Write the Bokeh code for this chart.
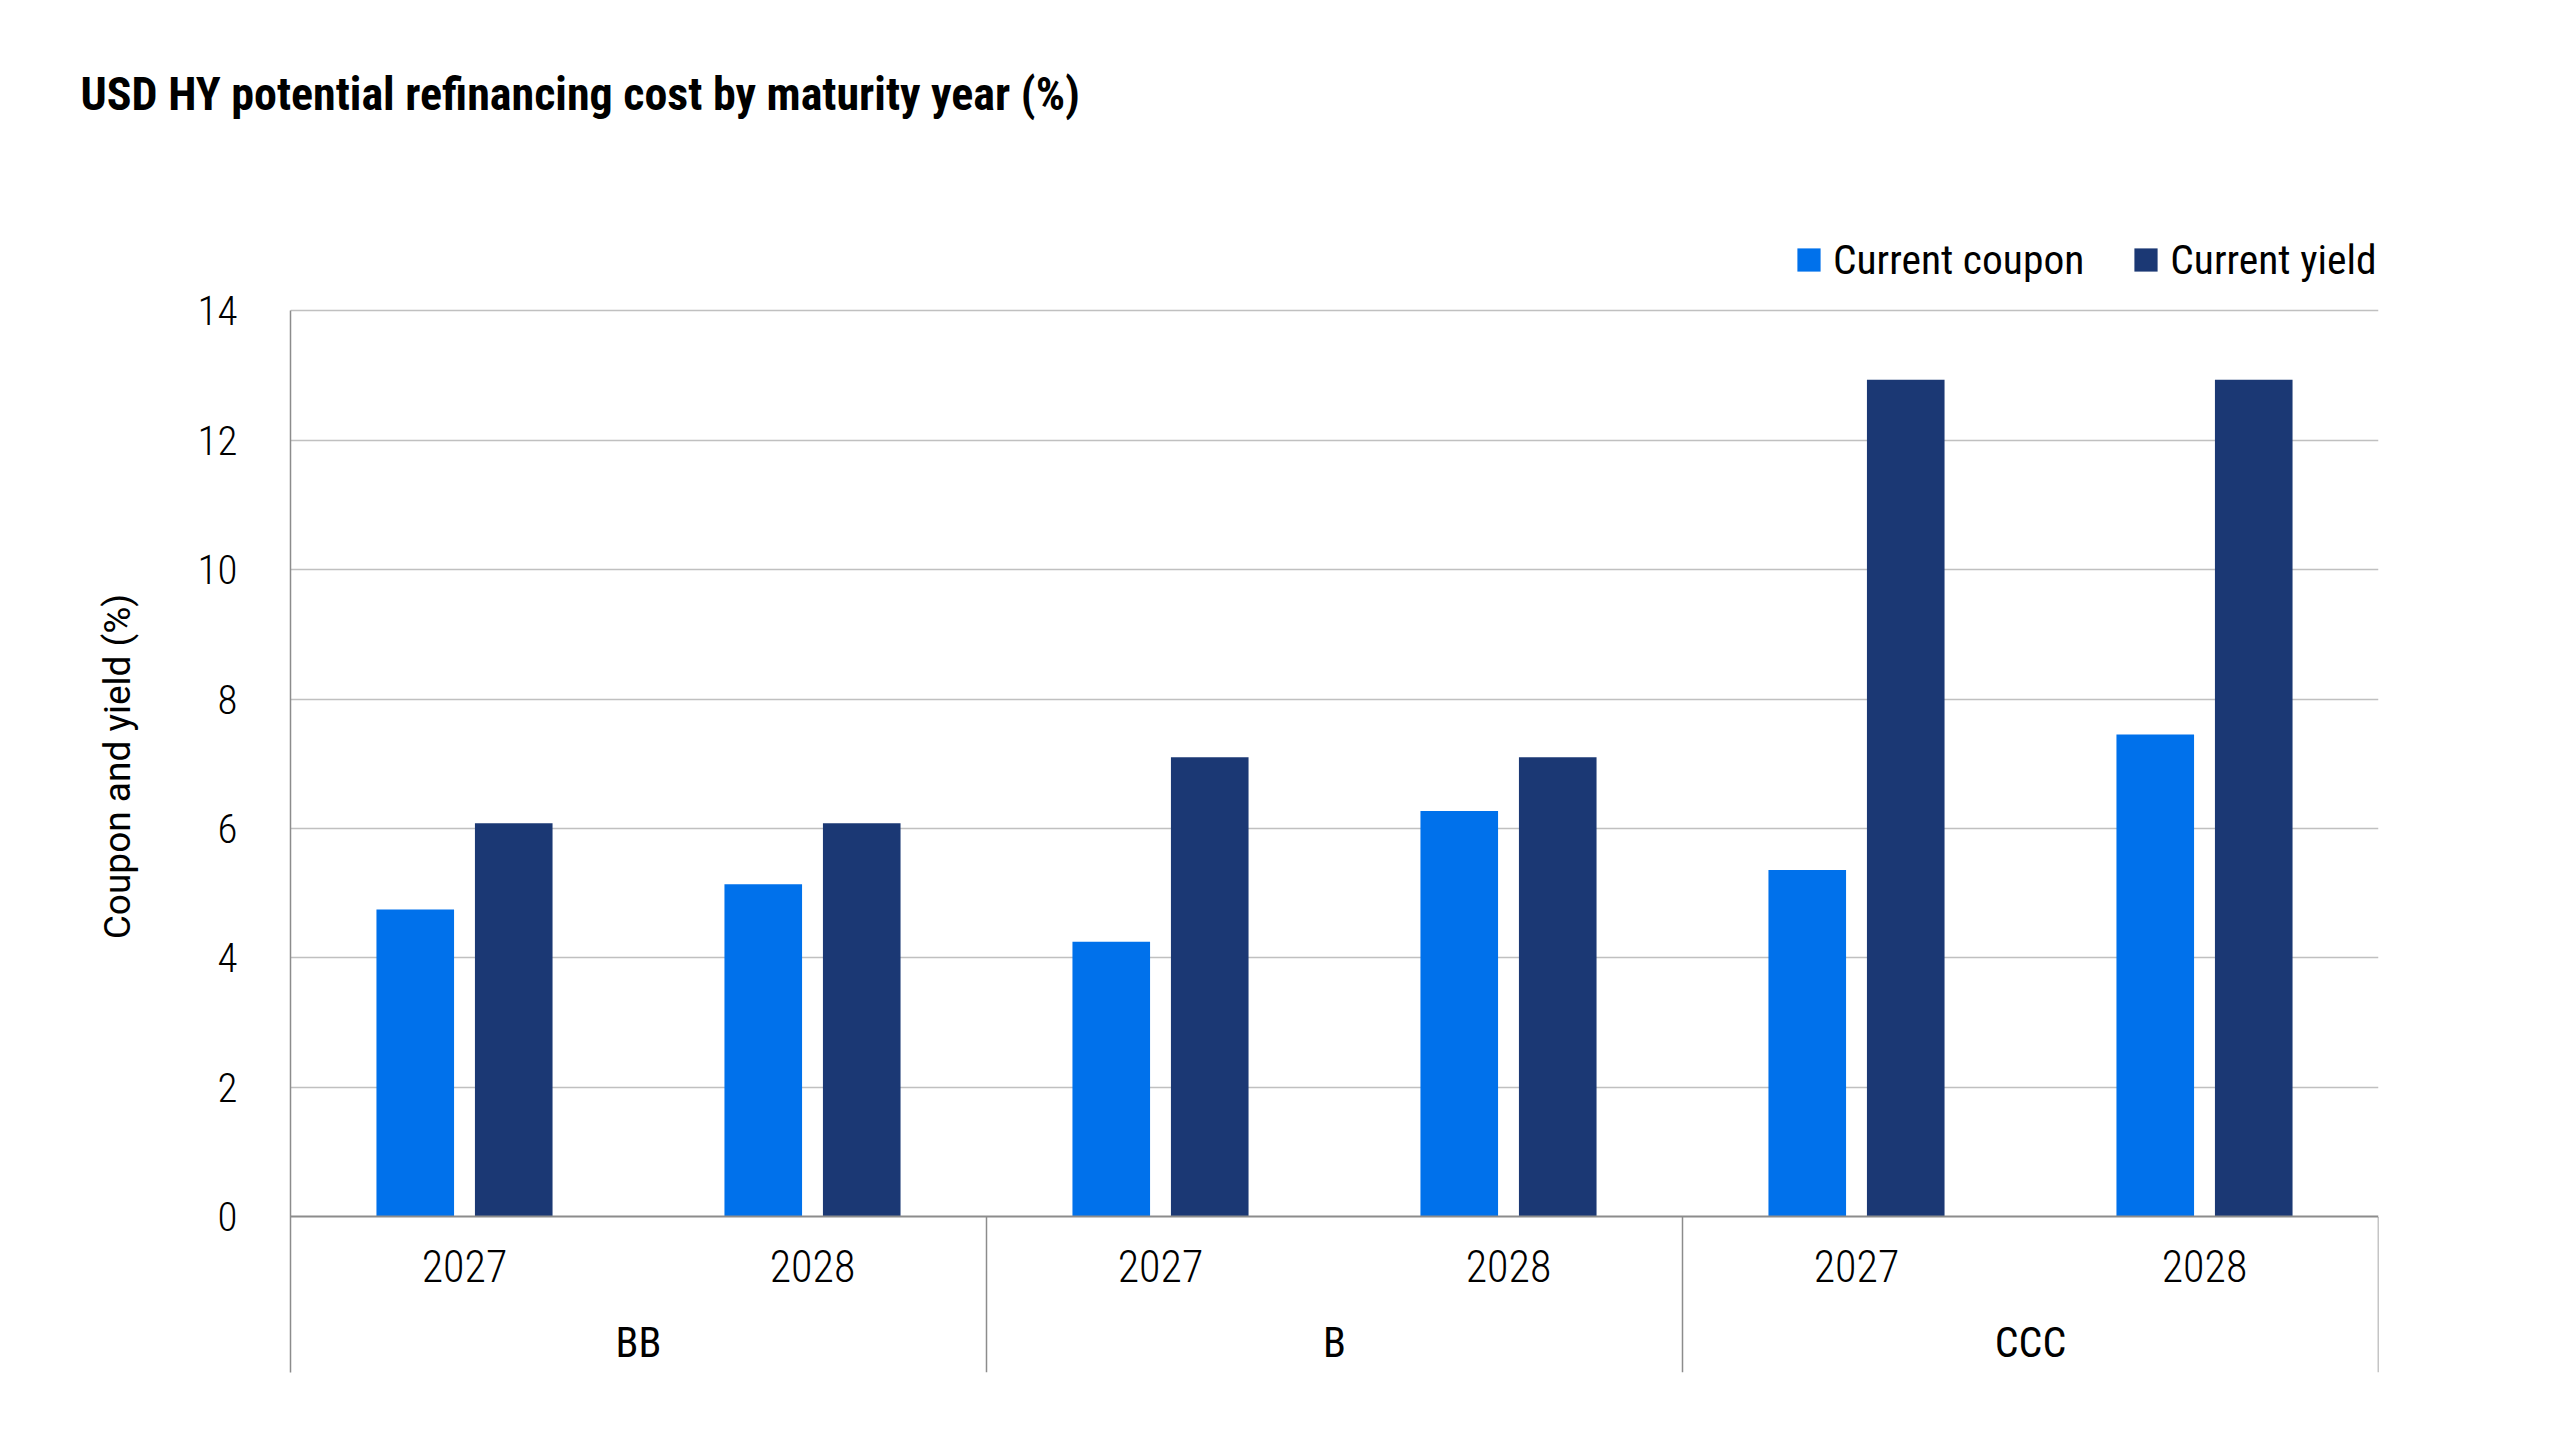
from bokeh.plotting import figure
from bokeh.models import (FactorRange, Range1d, FixedTicker, Legend, LegendItem,
                          CategoricalAxis, ColumnDataSource)
from bokeh.transform import dodge
from bokeh.embed import file_html
from bokeh.resources import INLINE

# ---- data ----
grades = ["BB", "B", "CCC"]
years = ["2027", "2028"]
coupon = [4.75, 5.14, 4.25, 6.27, 5.36, 7.45]
current_yield = [6.08, 6.08, 7.10, 7.10, 12.93, 12.93]
y_ticks = [0, 2, 4, 6, 8, 10, 12, 14]
series = ["Current coupon", "Current yield"]
colors = ["#0071EB", "#1B3874"]
title_text = "USD HY potential refinancing cost by maturity year (%)"
y_label = "Coupon and yield (%)"

factors = [(g, y) for g in grades for y in years]
src = ColumnDataSource(dict(cat=factors, coupon=coupon, yld=current_yield))

Y_MIN, Y_MAX = -2.402, 16.317
FONT = "Roboto Condensed"
FONT_L = "Roboto Condensed Light"

x_range = FactorRange(*factors, factor_padding=0, group_padding=0,
                      subgroup_padding=0, range_padding=0)
p = figure(width=2536, height=1420, x_range=x_range, y_range=Range1d(Y_MIN, Y_MAX),
           output_backend="svg", toolbar_location=None,
           min_border_left=290, min_border_right=158, min_border_top=160,
           min_border_bottom=48)
p.extra_x_ranges = {"grp": FactorRange(*grades, range_padding=0, factor_padding=0)}
p.outline_line_color = None
p.background_fill_color = "white"
p.border_fill_color = "white"

# title
p.title.text = title_text
p.title.text_font = FONT
p.title.text_font_style = "bold"
p.title.text_font_size = "46px"
p.title.text_color = "#000000"
p.title.align = "left"
p.title.offset = -210
p.title.standoff = 80

# bars
r1 = p.vbar(x=dodge("cat", -0.1415, range=p.x_range), top="coupon", width=0.223,
            source=src, fill_color=colors[0], line_color=None)
r2 = p.vbar(x=dodge("cat", 0.1415, range=p.x_range), top="yld", width=0.223,
            source=src, fill_color=colors[1], line_color=None)

# group separators below the axis
sep_src = ColumnDataSource(dict(g=grades[1:], y0=[0] * 2, y1=[Y_MIN] * 2))
p.segment(x0=dodge("g", -0.5, range=p.extra_x_ranges["grp"]),
          x1=dodge("g", -0.5, range=p.extra_x_ranges["grp"]),
          y0="y0", y1="y1", source=sep_src, x_range_name="grp",
          line_color="#8C8C8C", line_width=1.5)
end_src = ColumnDataSource(dict(g=grades[-1:], y0=[0], y1=[Y_MIN]))
p.segment(x0=dodge("g", 0.5, range=p.extra_x_ranges["grp"]),
          x1=dodge("g", 0.5, range=p.extra_x_ranges["grp"]),
          y0="y0", y1="y1", source=end_src, x_range_name="grp",
          line_color="#8C8C8C", line_width=1.5)

# y axis
ya = p.yaxis[0]
ya.ticker = FixedTicker(ticks=y_ticks)
ya.bounds = (Y_MIN, 14)
ya.major_tick_out = 0
ya.major_tick_in = 0
ya.minor_tick_line_color = None
ya.axis_line_color = "#8C8C8C"
ya.axis_line_width = 1.5
ya.major_label_standoff = 53
ya.major_label_text_font = FONT_L
ya.major_label_text_font_size = "41px"
ya.major_label_text_color = "#000000"
ya.axis_label = y_label
ya.axis_label_text_font = "Roboto"
ya.axis_label_text_font_style = "normal"
ya.axis_label_text_font_size = "37px"
ya.axis_label_text_color = "#000000"
ya.axis_label_standoff = 56

p.ygrid.ticker = FixedTicker(ticks=y_ticks[1:])
p.ygrid.grid_line_color = "#C0C0C0"
p.ygrid.grid_line_width = 1.5
p.xgrid.visible = False

# x axis: years
xa = p.xaxis[0]
xa.fixed_location = 0
xa.axis_line_color = "#8C8C8C"
xa.axis_line_width = 2
xa.major_tick_line_color = None
xa.minor_tick_line_color = None
xa.major_label_standoff = 27
xa.major_label_text_font = FONT_L
xa.major_label_text_font_size = "44px"
xa.major_label_text_color = "#000000"
xa.group_text_color = None
xa.separator_line_color = None

# x axis: grades
ga = CategoricalAxis(x_range_name="grp", fixed_location=0, axis_line_color=None,
                     major_tick_line_color=None, minor_tick_line_color=None,
                     major_label_standoff=95, major_label_text_font=FONT,
                     major_label_text_font_size="42px", major_label_text_color="#000000")
p.add_layout(ga, "below")

# legend
legend = Legend(items=[LegendItem(label=series[0], renderers=[r1]),
                       LegendItem(label=series[1], renderers=[r2])],
                orientation="horizontal", location=(1504, 1088), padding=0, margin=0,
                spacing=47, label_standoff=10, glyph_width=29, glyph_height=29,
                border_line_color=None, background_fill_alpha=0,
                label_text_font=FONT, label_text_font_size="41.5px",
                label_text_color="#000000")
p.add_layout(legend)

open("out.html", "w").write(file_html(p, INLINE))
